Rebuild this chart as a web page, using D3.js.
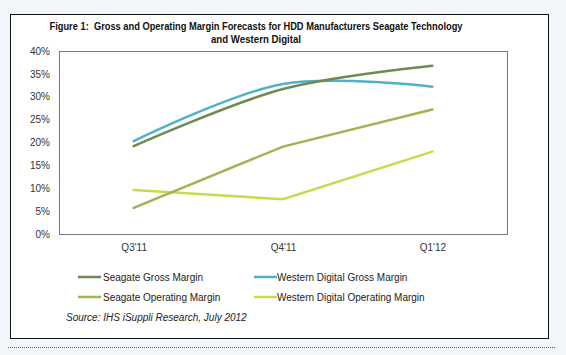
<!DOCTYPE html>
<html><head><meta charset="utf-8">
<script src="https://cdn.jsdelivr.net/npm/d3@7"></script>
<style>
html,body{margin:0;padding:0;background:#f4f7fa;}
svg{display:block;font-family:"Liberation Sans",Arial,sans-serif;}
</style></head>
<body>
<svg id="c" width="566" height="355"></svg>
<script>
const categories = ["Q3'11", "Q4'11", "Q1'12"];
const seagateGross = [19.2, 31.7, 36.8];
const wdGross = [20.3, 32.8, 32.2];
const seagateOperating = [5.7, 19.1, 27.2];
const wdOperating = [9.6, 7.6, 18.0];
const yTicks = [0, 5, 10, 15, 20, 25, 30, 35, 40];
const seriesNames = ["Seagate Gross Margin", "Western Digital Gross Margin", "Seagate Operating Margin", "Western Digital Operating Margin"];
const seriesColors = ["#6e8a50", "#4fb2c6", "#9fb552", "#c9db4c"];

const svg = d3.select("#c");
// outer panel
svg.append("rect").attr("x", 0).attr("y", 0).attr("width", 553).attr("height", 355).attr("fill", "#f2f5f9");
svg.append("rect").attr("x", 10.5).attr("y", 14.5).attr("width", 538).attr("height", 324)
  .attr("fill", "#ffffff").attr("stroke", "#111").attr("stroke-width", 1);
svg.append("line").attr("x1", 8).attr("x2", 555).attr("y1", 347.5).attr("y2", 347.5)
  .attr("stroke", "#3a5aa8").attr("stroke-width", 1).attr("stroke-dasharray", "1,1");

// title
const title = svg.append("text").attr("text-anchor", "middle").attr("font-weight", "bold")
  .attr("font-size", 10.5).attr("fill", "#111");
title.append("tspan").attr("x", 256).attr("y", 30).attr("textLength", 413).attr("lengthAdjust", "spacingAndGlyphs")
  .text("Figure 1:\u00a0 Gross and Operating Margin Forecasts for HDD Manufacturers Seagate Technology");
title.append("tspan").attr("x", 256).attr("y", 43).attr("textLength", 90).attr("lengthAdjust", "spacingAndGlyphs")
  .text("and Western Digital");

const L = 59, R = 507, T = 51, B = 234;
const x = d3.scalePoint().domain(categories).range([L, R]).padding(0.5);
const y = d3.scaleLinear().domain([0, 40]).range([B, T]);

svg.append("rect").attr("x", L + 0.5).attr("y", T + 0.5).attr("width", R - L).attr("height", B - T)
  .attr("fill", "none").attr("stroke", "#7a7a7a").attr("stroke-width", 1);

const yAxis = svg.append("g").attr("transform", `translate(${L},0)`)
  .call(d3.axisLeft(y).tickValues(yTicks).tickFormat(d => d + "%").tickSize(0).tickPadding(9));
yAxis.select(".domain").remove();
yAxis.selectAll("text").attr("font-size", 10).attr("fill", "#333").attr("font-family", "Liberation Sans, Arial, sans-serif");

const xAxis = svg.append("g").attr("transform", `translate(0,${B})`)
  .call(d3.axisBottom(x).tickSize(0).tickPadding(10));
xAxis.select(".domain").remove();
xAxis.selectAll("text").attr("font-size", 10).attr("fill", "#333").attr("font-family", "Liberation Sans, Arial, sans-serif");

const data = [seagateGross, wdGross, seagateOperating, wdOperating];
const curves = [d3.curveCatmullRom.alpha(0.5), d3.curveCatmullRom.alpha(0.5), d3.curveLinear, d3.curveLinear];
// draw order: operating first, then gross
[3, 2, 1, 0].forEach(i => {
  const line = d3.line().x((d, j) => x(categories[j])).y(d => y(d)).curve(curves[i]);
  svg.append("path").attr("d", line(data[i])).attr("fill", "none")
    .attr("stroke", seriesColors[i]).attr("stroke-width", 2.5).attr("stroke-linecap", "round");
});

// legend
const legPos = [[78, 277], [254, 277], [78, 297], [254, 297]];
seriesNames.forEach((n, i) => {
  const [lx, ly] = legPos[i];
  svg.append("line").attr("x1", lx).attr("x2", lx + 23).attr("y1", ly).attr("y2", ly)
    .attr("stroke", seriesColors[i]).attr("stroke-width", 2.5);
  svg.append("text").attr("x", lx + (i % 2 === 0 ? 25 : 23)).attr("y", ly + 3.5)
    .attr("font-size", 10).attr("fill", "#222").text(n);
});

svg.append("text").attr("x", 66).attr("y", 321).attr("font-size", 10).attr("font-style", "italic")
  .attr("fill", "#222").text("Source: IHS iSuppli Research, July 2012");
</script>
</body></html>
